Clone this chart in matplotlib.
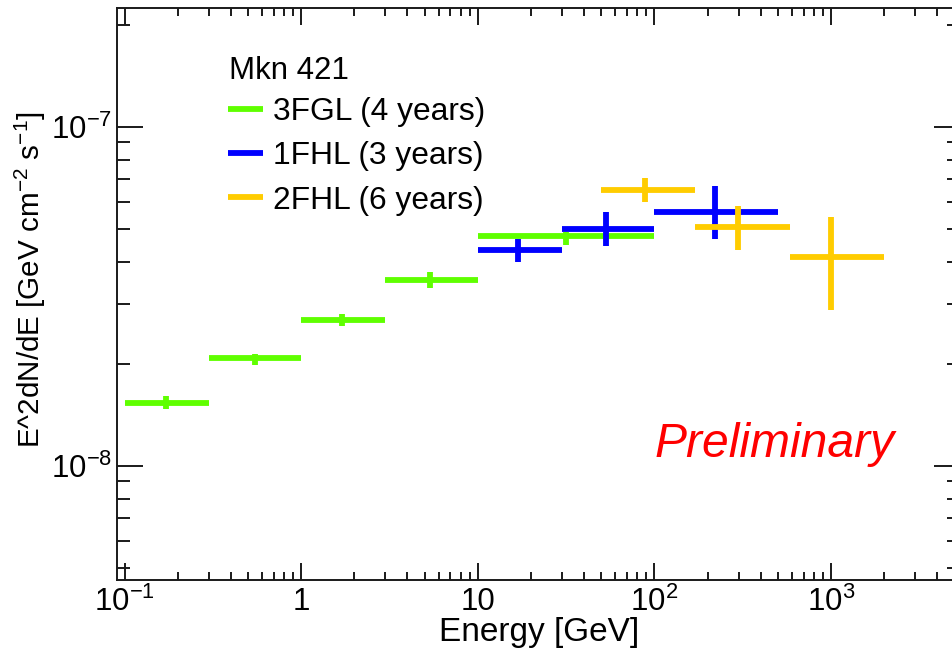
import matplotlib
matplotlib.use("Agg")
import matplotlib.pyplot as plt
from matplotlib.lines import Line2D
from matplotlib.ticker import FixedLocator, FixedFormatter, LogLocator, NullFormatter
import numpy as np

plt.rcParams['font.family'] = ['Liberation Sans', 'DejaVu Sans']
plt.rcParams['mathtext.fontset'] = 'custom'
plt.rcParams['mathtext.rm'] = 'Liberation Sans'
plt.rcParams['mathtext.it'] = 'Liberation Sans:italic'
plt.rcParams['mathtext.bf'] = 'Liberation Sans:bold'

# ---- data (energies in GeV, flux in GeV cm^-2 s^-1) ----
fgl_e_lo = [0.1, 0.3, 1.0, 3.0, 10.0]
fgl_e_hi = [0.3, 1.0, 3.0, 10.0, 100.0]
fgl_e_c = [0.172, 0.545, 1.71, 5.40, 31.6]
fgl_flux = [1.530e-8, 2.077e-8, 2.693e-8, 3.540e-8, 4.753e-8]
fgl_flux_lo = [1.469e-8, 1.985e-8, 2.586e-8, 3.352e-8, 4.480e-8]
fgl_flux_hi = [1.611e-8, 2.138e-8, 2.811e-8, 3.730e-8, 4.894e-8]

fhl1_e_lo = [10.0, 30.0, 100.0]
fhl1_e_hi = [30.0, 100.0, 500.0]
fhl1_e_c = [17.0, 53.5, 220.0]
fhl1_flux = [4.331e-8, 5.005e-8, 5.616e-8]
fhl1_flux_lo = [3.985e-8, 4.459e-8, 4.667e-8]
fhl1_flux_hi = [4.656e-8, 5.616e-8, 6.700e-8]

fhl2_e_lo = [50.0, 171.0, 585.0]
fhl2_e_hi = [171.0, 585.0, 2000.0]
fhl2_e_c = [88.5, 296.0, 1000.0]
fhl2_flux = [6.506e-8, 5.063e-8, 4.139e-8]
fhl2_flux_lo = [5.985e-8, 4.331e-8, 2.883e-8]
fhl2_flux_hi = [7.073e-8, 5.849e-8, 5.428e-8]

series_labels = ["3FGL (4 years)", "1FHL (3 years)", "2FHL (6 years)"]
series_colors = ["#5FFF00", "#0000FF", "#FFCC00"]
legend_title = "Mkn 421"

x_tick_values = [0.1, 1, 10, 100, 1000]
x_tick_labels = [r"$\mathdefault{10^{-1}}$", "1", "10", r"$\mathdefault{10^{2}}$", r"$\mathdefault{10^{3}}$"]
y_tick_values = [1e-8, 1e-7]
y_tick_labels = [r"$\mathdefault{10^{-8}}$", r"$\mathdefault{10^{-7}}$"]

W, H = 952, 651
fig = plt.figure(figsize=(W / 100, H / 100), dpi=100)
left_px, right_px, top_px, bottom_px = 117.3, 960.0, 8.3, 580.0
ax = fig.add_axes([left_px / W, (H - bottom_px) / H, (right_px - left_px) / W, (bottom_px - top_px) / H])
ax.set_xscale('log')
ax.set_yscale('log')
ax.set_xlim(0.0910, 5380)
ax.set_ylim(4.61e-9, 2.234e-7)

def ax_x(px):
    return (px - left_px) / (right_px - left_px)

def ax_y(py):
    return (bottom_px - py) / (bottom_px - top_px)

LW = 4.2
datasets = [
    (fgl_e_lo, fgl_e_hi, fgl_e_c, fgl_flux, fgl_flux_lo, fgl_flux_hi),
    (fhl1_e_lo, fhl1_e_hi, fhl1_e_c, fhl1_flux, fhl1_flux_lo, fhl1_flux_hi),
    (fhl2_e_lo, fhl2_e_hi, fhl2_e_c, fhl2_flux, fhl2_flux_lo, fhl2_flux_hi),
]
handles = []
for (elo, ehi, ec, f, flo, fhi), col, lab in zip(datasets, series_colors, series_labels):
    ec = np.array(ec); f = np.array(f)
    xerr = [ec - np.array(elo), np.array(ehi) - ec]
    yerr = [f - np.array(flo), np.array(fhi) - f]
    ax.errorbar(ec, f, xerr=xerr, yerr=yerr, fmt='none', ecolor=col,
                elinewidth=LW, capsize=0, zorder=3)
    handles.append(Line2D([], [], color=col, lw=LW, solid_capstyle='butt'))

# ticks
axis_col = '#1a1a1a'
for s in ax.spines.values():
    s.set_linewidth(1.4)
    s.set_color(axis_col)
ax.xaxis.set_major_locator(FixedLocator(x_tick_values))
ax.xaxis.set_major_formatter(FixedFormatter(x_tick_labels))
ax.xaxis.set_minor_locator(LogLocator(base=10, subs=np.arange(2, 10), numticks=20))
ax.xaxis.set_minor_formatter(NullFormatter())
ax.yaxis.set_major_locator(FixedLocator(y_tick_values))
ax.yaxis.set_major_formatter(FixedFormatter(y_tick_labels))
ax.yaxis.set_minor_locator(LogLocator(base=10, subs=np.arange(2, 10), numticks=20))
ax.yaxis.set_minor_formatter(NullFormatter())
ax.tick_params(axis='both', which='both', direction='in', top=True, right=True,
               color=axis_col, width=1.4, labelsize=22.5)
ax.tick_params(axis='x', which='major', length=12.2, pad=5)
ax.tick_params(axis='x', which='minor', length=6.1)
ax.tick_params(axis='y', which='major', length=18.7, pad=4)
ax.tick_params(axis='y', which='minor', length=9.4)

ax.set_xlabel("Energy [GeV]", fontsize=24)
ax.xaxis.set_label_coords(0.5, -0.064)
ax.set_ylabel(r"E^2dN/dE [GeV cm$^{\mathdefault{-2}}$ s$^{\mathdefault{-1}}$]", fontsize=21.3)
ax.yaxis.set_label_coords(-0.0822, 0.525)

# legend header and entries
ax.text(ax_x(229), ax_y(79.3), legend_title, fontsize=22.5, ha='left', va='baseline',
        transform=ax.transAxes)
leg = ax.legend(handles, series_labels, loc='upper left',
                bbox_to_anchor=(ax_x(228), ax_y(97)),
                frameon=False, fontsize=22.9,
                handlelength=1.1, handletextpad=0.33, labelspacing=0.45, borderpad=0,
                borderaxespad=0)

ax.text(ax_x(655), ax_y(457.3), "Preliminary", color='#FF0000', fontsize=34.6,
        style='italic', ha='left', va='baseline', transform=ax.transAxes)

fig.savefig("out.png", dpi=100)
